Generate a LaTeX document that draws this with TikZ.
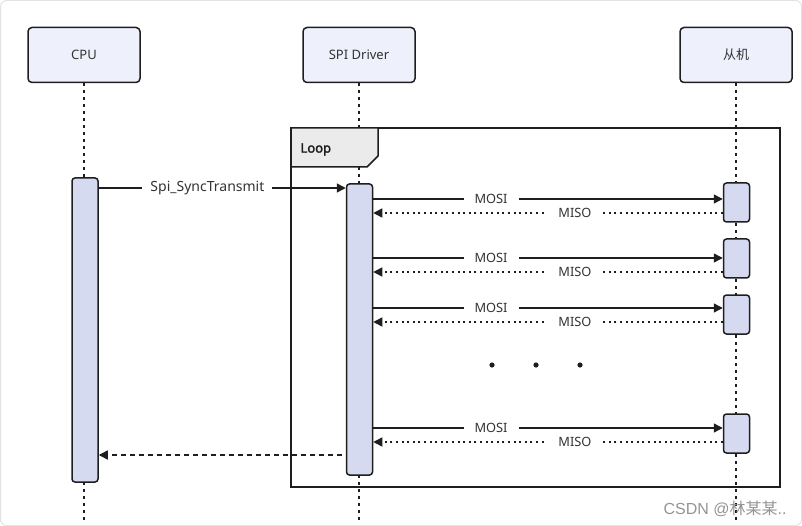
\documentclass[tikz,border=0pt]{standalone}
\usepackage{fontspec}
\setmainfont{Noto Sans}
\newfontfamily\cjk{Noto Sans CJK SC}
\newfontfamily\loopfont[FakeBold=2.2]{Noto Sans}
\newfontfamily\wmfont{Liberation Sans}
\usetikzlibrary{arrows.meta}
\definecolor{ink}{HTML}{1E1E1E}
\definecolor{txt}{HTML}{333333}
\definecolor{partfill}{HTML}{EEF1FB}
\definecolor{actfill}{HTML}{D5DAF0}
\definecolor{loopfill}{HTML}{EBEBEB}
\definecolor{edge}{HTML}{E3E3E3}
\tikzset{
  part/.style={draw=ink, line width=1.5pt, fill=partfill, rounded corners=4pt,
    minimum width=112pt, minimum height=55pt, inner sep=0pt,
    font=\fontsize{13}{15}\selectfont, text=txt},
  actbar/.style={draw=ink, line width=1.5pt, fill=actfill, rounded corners=3pt,
    minimum width=26pt, inner sep=0pt},
  life/.style={draw=ink, line width=1.6pt, dash pattern=on 3pt off 4pt},
  msg/.style={draw=ink, line width=1.4pt, -{Triangle[length=9pt,width=9pt]}},
  reply/.style={draw=ink, line width=1.4pt, dash pattern=on 2pt off 3.6pt, -{Triangle[length=9pt,width=9pt]}},
  ret/.style={draw=ink, line width=1.4pt, dash pattern=on 5pt off 4pt, -{Triangle[length=9pt,width=9pt]}},
  lbl/.style={fill=white, inner xsep=11pt, inner ysep=1pt, text=txt,
    font=\fontsize{12.8}{14}\selectfont},
}
\begin{document}
\begin{tikzpicture}[x=1pt,y=-1pt]
\useasboundingbox (0,0) rectangle (802,526);
\draw[edge, line width=1pt, rounded corners=6pt] (0.5,0.5) rectangle (801.5,525.5);

% participants
\node[part] (cpu) at (84,55) {CPU};
\node[part] (spi) at (359,55) {SPI Driver};
\node[part] (slv) at (736,55) {\cjk 从机};

% lifeline ends
\coordinate (cpuend) at (84,522);
\coordinate (spiend) at (359,522);
\coordinate (slvend) at (736,522);
\draw[life] (cpu.south) -- (cpuend);
\draw[life] (spi.south) -- (spiend);
\draw[life] (slv.south) -- (slvend);

% loop frame
\node[draw=ink, line width=1.5pt, minimum width=489pt, minimum height=359pt, inner sep=0pt] (loop) at (535.5,307.5) {};
\filldraw[draw=ink, fill=loopfill, line width=1.5pt] (291,128) -- (378,128) -- (378,156) -- (367,167) -- (291,167) -- cycle;
\node[anchor=west, font=\loopfont\fontsize{13}{15}\selectfont, text=ink] (looplbl) at (297,149.5) {Loop};

% activations
\node[actbar, minimum height=304pt] (actcpu) at (85,330) {};
\node[actbar, minimum height=291pt] (actspi) at (359.5,329.5) {};
\node[actbar, minimum height=39pt] (act1) at (736.5,202.5) {};
\node[actbar, minimum height=39pt] (act2) at (736.5,258.5) {};
\node[actbar, minimum height=39pt] (act3) at (736.5,314.5) {};
\node[actbar, minimum height=39pt] (act4) at (736.5,433.5) {};

% message rows
\coordinate (r0) at (0,188);
\coordinate (m1) at (0,199);  \coordinate (s1) at (0,213);
\coordinate (m2) at (0,258);  \coordinate (s2) at (0,272);
\coordinate (m3) at (0,308);  \coordinate (s3) at (0,322);
\coordinate (m4) at (0,428);  \coordinate (s4) at (0,442);
\coordinate (rr) at (0,455);

\draw[msg] (actcpu.east |- r0) -- node[lbl, pos=0.44, inner xsep=8pt, font=\fontsize{14}{16}\selectfont] {Spi\_SyncTransmit} (actspi.west |- r0);

\draw[msg] (actspi.east |- m1) -- node[lbl, pos=0.337] {MOSI} (act1.west |- m1);
\draw[reply] (act1.west |- s1) -- node[lbl, pos=0.423] {MISO} (actspi.east |- s1);
\draw[msg] (actspi.east |- m2) -- node[lbl, pos=0.337] {MOSI} (act2.west |- m2);
\draw[reply] (act2.west |- s2) -- node[lbl, pos=0.423] {MISO} (actspi.east |- s2);
\draw[msg] (actspi.east |- m3) -- node[lbl, pos=0.337] {MOSI} (act3.west |- m3);
\draw[reply] (act3.west |- s3) -- node[lbl, pos=0.423] {MISO} (actspi.east |- s3);
\draw[msg] (actspi.east |- m4) -- node[lbl, pos=0.337] {MOSI} (act4.west |- m4);
\draw[reply] (act4.west |- s4) -- node[lbl, pos=0.423] {MISO} (actspi.east |- s4);

\draw[ret] ([xshift=-4pt]actspi.west |- rr) -- (actcpu.east |- rr);

% ellipsis dots
\fill[ink] (492,365) circle (2.6pt) (536,365) circle (2.6pt) (580,365) circle (2.6pt);

% watermark
\node[anchor=east, text=black!42, font=\wmfont\fontsize{16}{18}\selectfont] (wm) at (790,509) {CSDN @{\cjk 林某某}..};
\end{tikzpicture}
\end{document}
